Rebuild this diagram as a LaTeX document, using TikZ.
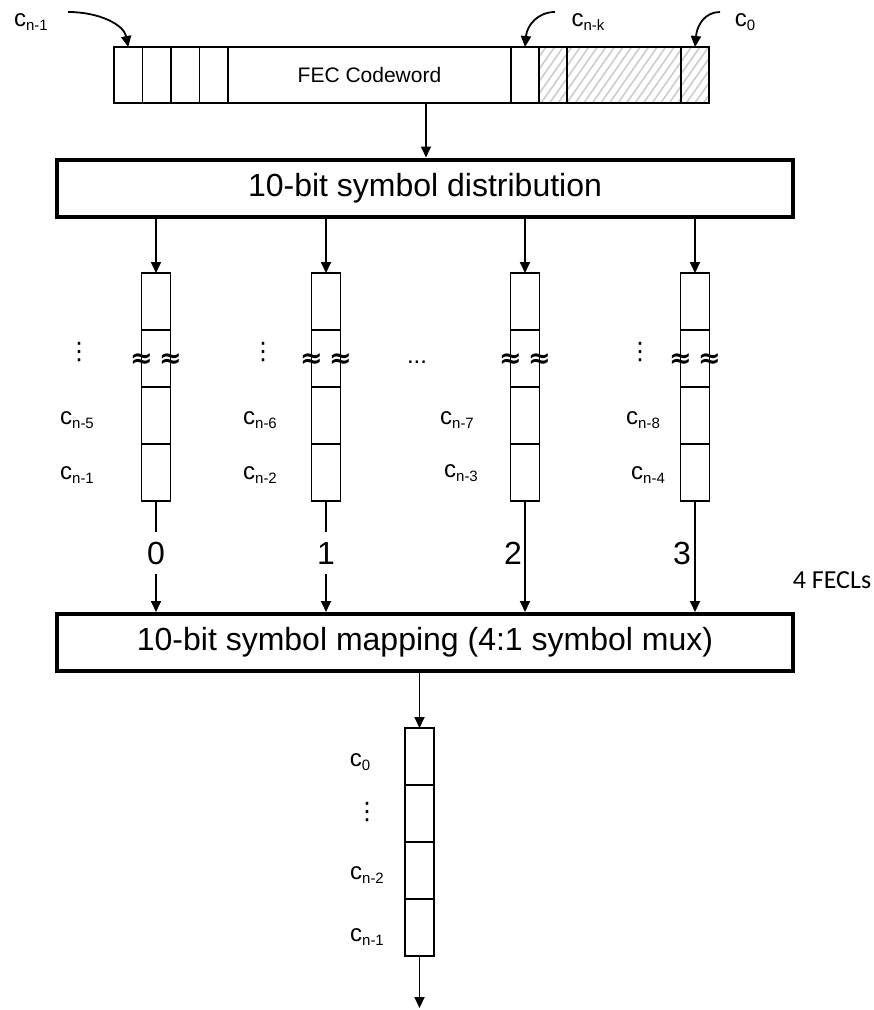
\documentclass[tikz,border=0pt]{standalone}
\usepackage{fontspec}
\setmainfont{Liberation Sans}
\newfontfamily\fecl{Carlito}
\newfontfamily\djv{DejaVu Sans}
\usetikzlibrary{arrows.meta,positioning,patterns.meta}
\newcommand\csub[1]{c\raisebox{-4pt}{\fontsize{15}{15}\selectfont #1}}
\newcommand\vdts{{\djv ⋮}}
\newcommand\brk{{\djv\bfseries ≈}}
\tikzset{
  cell/.style={draw,line width=1.4pt,minimum width=29pt,minimum height=57pt,
               inner sep=0pt,outer sep=0pt},
  cwcell/.style={draw,line width=1.4pt,minimum height=56pt,inner sep=0pt,outer sep=0pt},
  hatch/.style={cwcell,pattern={Lines[angle=55,distance=7pt,line width=1.6pt]},
                pattern color=gray!40},
  block/.style={draw,line width=4pt,minimum width=736pt,minimum height=57pt,
                font=\fontsize{32}{32}\selectfont},
  lbl/.style={font=\fontsize{24}{24}\selectfont,inner sep=0pt},
  dts/.style={font=\fontsize{24}{24}\selectfont,inner sep=0pt},
  brkmark/.style={font=\fontsize{27}{27}\selectfont,inner sep=0pt},
  lane/.style={font=\fontsize{32}{32}\selectfont,inner sep=0pt},
  arrow/.style={-{Triangle[length=11pt,width=10pt]},line width=1.8pt}
}
\begin{document}
\begin{tikzpicture}[x=1pt,y=-1pt]
\useasboundingbox (0,0) rectangle (874,1010);
% codeword
\node[cwcell,minimum width=28.5pt] (w1) at (128.25,75) {};
\node[cwcell,minimum width=28.5pt,right=0pt of w1] (w2) {};
\node[cwcell,minimum width=28.5pt,right=0pt of w2] (w3) {};
\node[cwcell,minimum width=28.5pt,right=0pt of w3] (w4) {};
\node[cwcell,minimum width=283pt,right=0pt of w4,font=\fontsize{21}{21}\selectfont] (fec) {FEC Codeword};
\node[cwcell,minimum width=28pt,right=0pt of fec] (ck) {};
\node[hatch,minimum width=28pt,right=0pt of ck] (p1) {};
\node[hatch,minimum width=114pt,right=0pt of p1] (p2) {};
\node[hatch,minimum width=28pt,right=0pt of p2] (c0) {};
\node[lbl] (ln1) at (31,22) {\csub{n-1}};
\node[lbl] (lnk) at (588,22) {\csub{n-k}};
\node[lbl] (l0) at (745,22) {\csub{0}};
\coordinate (s1) at (68,12);
\coordinate (sk) at (555,12);
\coordinate (s0) at (720,12);
\draw[arrow] (s1) .. controls (100,12) and (124,25) .. (w1.north);
\draw[arrow] (sk) .. controls (538,12) and (527,25) .. (ck.north);
\draw[arrow] (s0) .. controls (705,12) and (697,25) .. (c0.north);
% distribution
\node[block] (dist) at (425,188) {10-bit symbol distribution};
\coordinate (cwout) at (426,103);
\draw[arrow] (cwout) -- (cwout |- dist.north);
% lanes
\node[cell] (a1) at (156,301.5) {};
\node[cell,below=0pt of a1] (a2) {};
\node[cell,below=0pt of a2] (a3) {};
\node[cell,below=0pt of a3] (a4) {};
\node[cell] (b1) at (326,301.5) {};
\node[cell,below=0pt of b1] (b2) {};
\node[cell,below=0pt of b2] (b3) {};
\node[cell,below=0pt of b3] (b4) {};
\node[cell] (c1) at (525,301.5) {};
\node[cell,below=0pt of c1] (c2) {};
\node[cell,below=0pt of c2] (c3) {};
\node[cell,below=0pt of c3] (c4) {};
\node[cell] (d1) at (695,301.5) {};
\node[cell,below=0pt of d1] (d2) {};
\node[cell,below=0pt of d2] (d3) {};
\node[cell,below=0pt of d3] (d4) {};
\draw[arrow] (dist.south -| a1) -- (a1.north);
\draw[arrow] (dist.south -| b1) -- (b1.north);
\draw[arrow] (dist.south -| c1) -- (c1.north);
\draw[arrow] (dist.south -| d1) -- (d1.north);
\node[brkmark] (ax1) at ([yshift=-2pt]a2.west) {\brk};
\node[brkmark] (ax2) at ([yshift=-2pt]a2.east) {\brk};
\node[brkmark] (bx1) at ([yshift=-2pt]b2.west) {\brk};
\node[brkmark] (bx2) at ([yshift=-2pt]b2.east) {\brk};
\node[brkmark] (cx1) at ([yshift=-2pt]c2.west) {\brk};
\node[brkmark] (cx2) at ([yshift=-2pt]c2.east) {\brk};
\node[brkmark] (dx1) at ([yshift=-2pt]d2.west) {\brk};
\node[brkmark] (dx2) at ([yshift=-2pt]d2.east) {\brk};
\node[dts] (av) at (79,352) {\vdts};
\node[lbl] (a5) at (77,420) {\csub{n-5}};
\node[lbl] (an1) at (77,475) {\csub{n-1}};
\node[dts] (bv) at (263,352) {\vdts};
\node[lbl] (b6) at (260,420) {\csub{n-6}};
\node[lbl] (bn2) at (260,475) {\csub{n-2}};
\node[dts] (mid) at (417,362) {...};
\node[lbl] (c7) at (457,420) {\csub{n-7}};
\node[lbl] (cn3) at (461,473) {\csub{n-3}};
\node[dts] (dv) at (640,352) {\vdts};
\node[lbl] (d8) at (643,420) {\csub{n-8}};
\node[lbl] (dn4) at (648,475) {\csub{n-4}};
% mapping
\node[block] (map) at (425,642.5) {10-bit symbol mapping (4:1 symbol mux)};
\node[lane,minimum height=41pt] (n0) at (156,553) {0};
\node[lane,minimum height=41pt] (n1) at (326,553) {1};
\node[lane,anchor=east] (n2) at (522,553) {2};
\node[lane,anchor=east] (n3) at (691,553) {3};
\draw[line width=1.8pt] (a4.south) -- (n0.north);
\draw[arrow] (n0.south) -- (n0.south |- map.north);
\draw[line width=1.8pt] (b4.south) -- (n1.north);
\draw[arrow] (n1.south) -- (n1.south |- map.north);
\draw[arrow] (c4.south) -- (c4.south |- map.north);
\draw[arrow] (d4.south) -- (d4.south |- map.north);
\node[font=\fecl\fontsize{26}{26}\selectfont,inner sep=0pt] (fecls) at (832,580) {4 FECLs};
% output
\node[cell] (e1) at (419.5,756.5) {};
\node[cell,below=0pt of e1] (e2) {};
\node[cell,below=0pt of e2] (e3) {};
\node[cell,below=0pt of e3] (e4) {};
\draw[arrow] (map.south -| e1) -- (e1.north);
\coordinate (tail) at (419.5,1008);
\draw[arrow] (e4.south) -- (tail);
\node[lbl] (e0l) at (360,762) {\csub{0}};
\node[dts] (ev) at (367,812) {\vdts};
\node[lbl] (en2) at (367,875) {\csub{n-2}};
\node[lbl] (en1) at (367,937) {\csub{n-1}};
\end{tikzpicture}
\end{document}
